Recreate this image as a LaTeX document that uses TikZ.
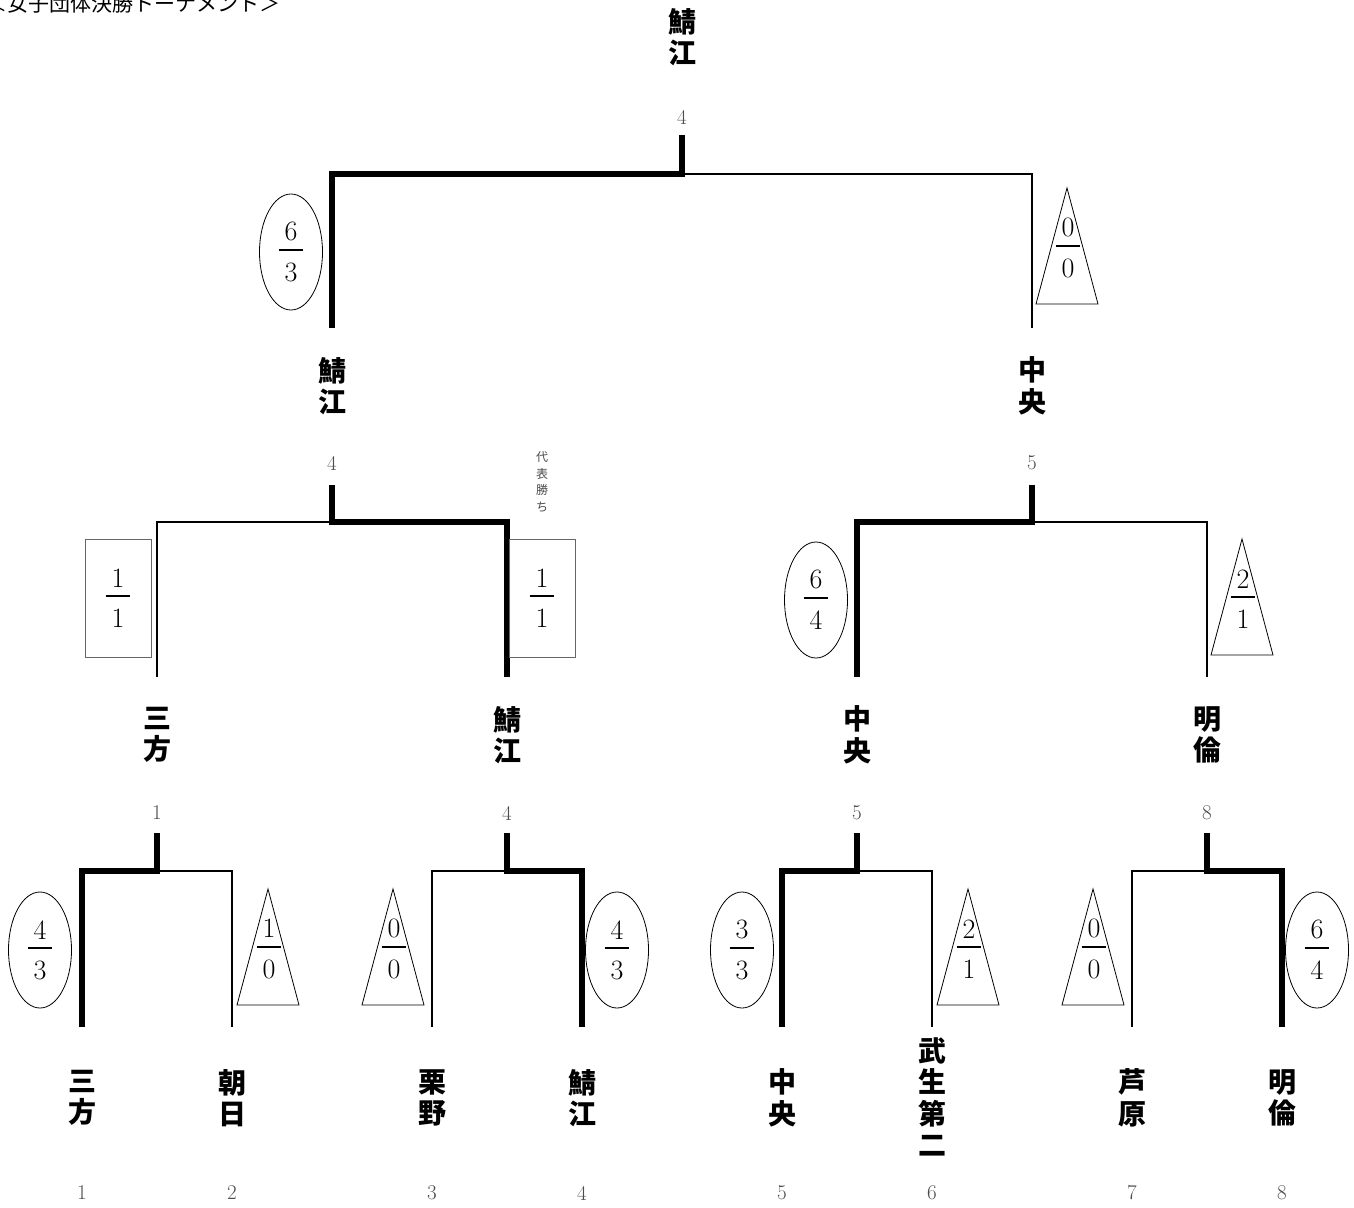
\documentclass[tikz,border=0pt]{standalone}
\usepackage{fontspec}
\newfontfamily\jp{Noto Sans CJK JP}
\usetikzlibrary{shapes.geometric}
\newcommand\fr[2]{\vbox{\halign{\hfil##\hfil\cr\kern6pt#1\kern6pt\cr\noalign{\kern8pt\hrule height1.7pt\kern12pt}\kern6pt#2\kern6pt\cr}}}
\tikzset{
  thickln/.style={line width=6pt, line join=miter, line cap=butt},
  thinln/.style={line width=1.5pt},
  team/.style={font=\jp\bfseries\fontsize{28}{31.5}\selectfont, align=center, inner sep=0pt},
  seed/.style={font=\fontsize{21}{22}\selectfont, text=black!70, inner sep=0pt},
  score/.style={font=\fontsize{28}{34}\selectfont, inner sep=0pt},
  ell/.style={score, draw, line width=0.8pt, ellipse, minimum width=63pt, minimum height=116pt},
  scorebox/.style={score, draw=black!60, line width=0.8pt, rectangle, minimum width=66pt, minimum height=118pt},
  trisha/.style={line width=0.8pt, line join=miter},
  note/.style={font=\jp\fontsize{12}{16.5}\selectfont, text=black!70, align=center, inner sep=0pt},
  titlesty/.style={font=\jp\fontsize{21}{21}\selectfont, inner sep=0pt, anchor=base west}
}
\newcommand\trinode[4]{%
  \node[score] (#1) at (#2,#3) {#4};
  \draw[trisha] (#1.center) ++(-1,-60) -- ++(-31,116) -- ++(62,0) -- cycle;}
\begin{document}
\begin{tikzpicture}[x=1pt,y=-1pt]
\clip (0,0) rectangle (1354,1207);
\fill[white] (0,0) rectangle (1354,1207);

% title (cut off at the top edge, as in the reference)
\node[titlesty] (title) at (-14,12) {＜女子団体決勝トーナメント＞};

% leaf coordinates
\coordinate (a1) at (82,1027);
\coordinate (a2) at (232,1027);
\coordinate (a3) at (432,1027);
\coordinate (a4) at (582,1027);
\coordinate (a5) at (782,1027);
\coordinate (a6) at (932,1027);
\coordinate (a7) at (1132,1027);
\coordinate (a8) at (1282,1027);
\coordinate (j1) at (157,871); \coordinate (t1) at (157,833);
\coordinate (j2) at (507,871); \coordinate (t2) at (507,833);
\coordinate (j3) at (857,871); \coordinate (t3) at (857,833);
\coordinate (j4) at (1207,871); \coordinate (t4) at (1207,833);
\coordinate (b1) at (157,677);
\coordinate (b2) at (507,677);
\coordinate (b3) at (857,677);
\coordinate (b4) at (1207,677);
\coordinate (k1) at (332,522); \coordinate (u1) at (332,485);
\coordinate (k2) at (1032,522); \coordinate (u2) at (1032,485);
\coordinate (c1) at (332,328);
\coordinate (c2) at (1032,328);
\coordinate (f) at (682,174); \coordinate (top) at (682,135);

% thin connectors
\draw[thinln] (j1) -| (a2);
\draw[thinln] (j2) -| (a3);
\draw[thinln] (j3) -| (a6);
\draw[thinln] (j4) -| (a7);
\draw[thinln] (k1) -| (b1);
\draw[thinln] (k2) -| (b4);
\draw[thinln] (f) -| (c2);
% thick winner connectors
\draw[thickln] (a1) |- (j1) -- (t1);
\draw[thickln] (a4) |- (j2) -- (t2);
\draw[thickln] (a5) |- (j3) -- (t3);
\draw[thickln] (a8) |- (j4) -- (t4);
\draw[thickln] (b2) |- (k1) -- (u1);
\draw[thickln] (b3) |- (k2) -- (u2);
\draw[thickln] (c1) |- (f) -- (top);

% leaf teams
\node[team] (n1) at (82,1098) {三\\方};
\node[team] (n2) at (232,1098) {朝\\日};
\node[team] (n3) at (432,1098) {栗\\野};
\node[team] (n4) at (582,1098) {鯖\\江};
\node[team] (n5) at (782,1098) {中\\央};
\node[team] (n6) at (932,1097) {武\\生\\第\\二};
\node[team] (n7) at (1132,1098) {芦\\原};
\node[team] (n8) at (1282,1098) {明\\倫};
\node[seed] (s1) at (82,1193) {1};
\node[seed] (s2) at (232,1193) {2};
\node[seed] (s3) at (432,1193) {3};
\node[seed] (s4) at (582,1193) {4};
\node[seed] (s5) at (782,1193) {5};
\node[seed] (s6) at (932,1193) {6};
\node[seed] (s7) at (1132,1193) {7};
\node[seed] (s8) at (1282,1193) {8};

% round 1 winners
\node[team] (w1) at (157,735) {三\\方};
\node[team] (w2) at (507,735) {鯖\\江};
\node[team] (w3) at (857,735) {中\\央};
\node[team] (w4) at (1207,735) {明\\倫};
\node[seed] (ws1) at (157,813) {1};
\node[seed] (ws2) at (507,813) {4};
\node[seed] (ws3) at (857,813) {5};
\node[seed] (ws4) at (1207,813) {8};

% round 2 winners
\node[team] (v1) at (332,386) {鯖\\江};
\node[team] (v2) at (1032,386) {中\\央};
\node[seed] (vs1) at (332,463) {4};
\node[seed] (vs2) at (1032,463) {5};

% champion
\node[team] (champ) at (682,37) {鯖\\江};
\node[seed] (cs) at (682,117) {4};

% scores round 1
\node[ell] (e1) at (40,950) {\fr{4}{3}};
\trinode{tr1}{269}{949}{\fr{1}{0}}
\trinode{tr2}{394}{949}{\fr{0}{0}}
\node[ell] (e2) at (617,950) {\fr{4}{3}};
\node[ell] (e3) at (742,950) {\fr{3}{3}};
\trinode{tr3}{969}{949}{\fr{2}{1}}
\trinode{tr4}{1094}{949}{\fr{0}{0}}
\node[ell] (e4) at (1317,950) {\fr{6}{4}};

% scores round 2
\node[scorebox] (r1) at (118,598) {\fr{1}{1}};
\node[scorebox] (r2) at (542,598) {\fr{1}{1}};
\node[note] (daihyo) at (542,482) {代\\表\\勝\\ち};
\node[ell] (e5) at (816,600) {\fr{6}{4}};
\trinode{tr5}{1243}{599}{\fr{2}{1}}

% scores final
\node[ell] (e6) at (291,252) {\fr{6}{3}};
\trinode{tr6}{1068}{248}{\fr{0}{0}}
\end{tikzpicture}
\end{document}
